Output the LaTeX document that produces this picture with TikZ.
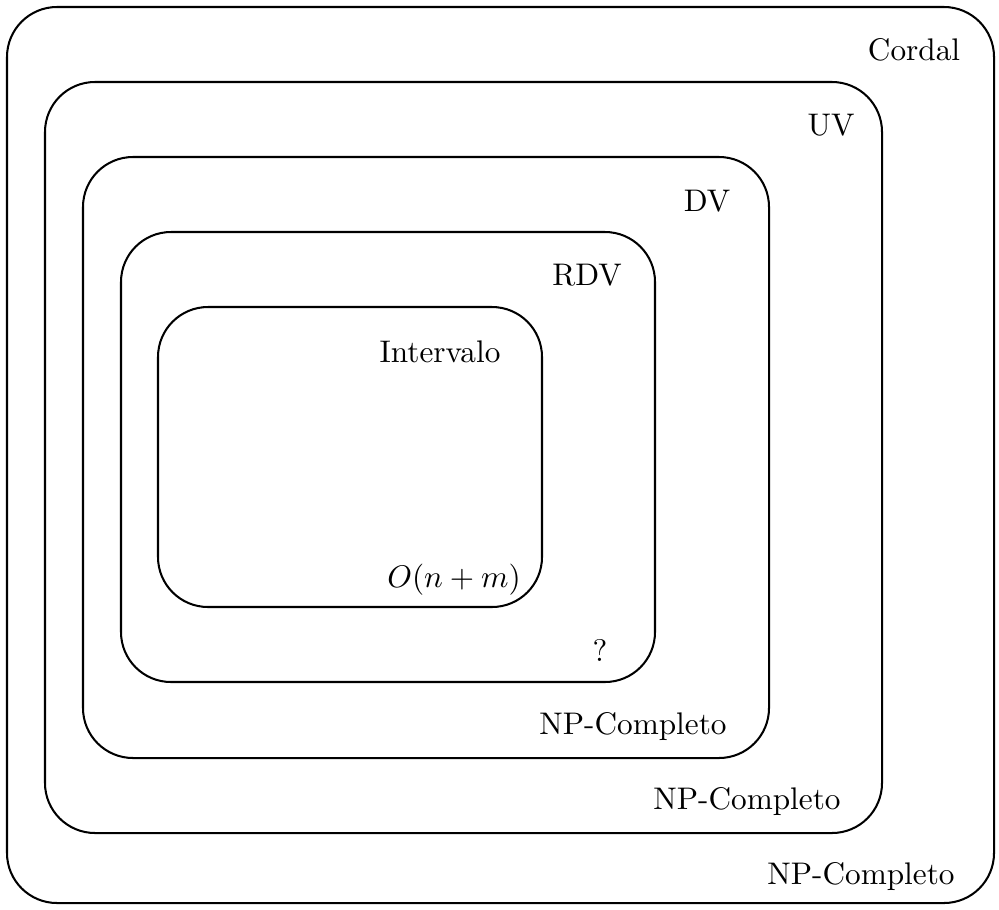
\documentclass[tikz,border=0pt]{standalone}
\begin{document}
\begin{tikzpicture}[x=0.32pt,y=-0.32pt,
  classbox/.style={draw=black,line width=0.65pt,rounded corners=16pt},
  classlabel/.style={inner sep=0pt,font=\fontsize{10}{12}\selectfont}]
\useasboundingbox (0,0) rectangle (999,909);
% nested graph classes
\draw[classbox] (7,7) rectangle (994,903);
\draw[classbox] (45,82) rectangle (882,833);
\draw[classbox] (83,157) rectangle (769,758);
\draw[classbox] (121,232) rectangle (655,682);
\draw[classbox] (158,307) rectangle (542,607);
% class names
\node[classlabel] (cordal) at (914,50) {Cordal};
\node[classlabel] (uv) at (831,125) {UV};
\node[classlabel] (dv) at (707,201) {DV};
\node[classlabel] (rdv) at (587,275) {RDV};
\node[classlabel] (interv) at (440,352) {Intervalo};
% complexity of each class
\node[classlabel] (cint) at (454,580) {$O(n+m)$};
\node[classlabel] (crdv) at (600,650) {?};
\node[classlabel] (cdv) at (633,726) {NP-Completo};
\node[classlabel] (cuv) at (747,801) {NP-Completo};
\node[classlabel] (ccordal) at (861,876) {NP-Completo};
\end{tikzpicture}
\end{document}
